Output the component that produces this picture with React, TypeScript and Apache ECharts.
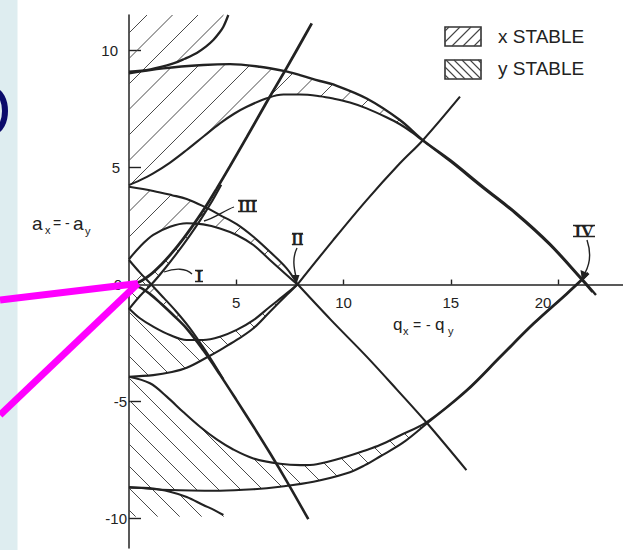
import React, { useEffect, useRef } from "react";
import * as echarts from "echarts";

type Pt = [number, number];

// q runs along x, a along y
const Q_RANGE: Pt = [0, 23.03];
const A_RANGE: Pt = [-11.26, 11.52];

const qTicks = [5, 10, 15, 20];
const aTicks = [-10, -5, 5, 10];
const aLabels = [-10, -5, 0, 5, 10];

// x-stability boundaries (a_x against q_x)
const a0: Pt[] = [[0, 0], [0.5, -0.12], [1.0, -0.42], [1.5, -0.82], [2.0, -1.25], [2.69, -1.88], [3.46, -2.8], [4.24, -3.85], [5.02, -4.95], [5.8, -6.07], [6.57, -7.2], [7.35, -8.4], [8.36, -10.03]];
const b1: Pt[] = [[0, 1.05], [0.5, 0.52], [1.06, -0.02], [1.6, -0.55], [2.2, -1.15], [2.8, -1.82], [3.4, -2.6], [3.9, -3.3], [4.4, -4.05]];
const a1: Pt[] = [[0, 1.08], [0.51, 1.62], [1.13, 2.12], [1.91, 2.47], [2.69, 2.62], [3.46, 2.57], [4.24, 2.4], [5.02, 2.12], [5.8, 1.69], [6.57, 1.05], [7.35, 0.41], [7.85, 0]];
const b2: Pt[] = [[0, 4.18], [1.13, 4.0], [2.0, 3.82], [2.69, 3.66], [3.46, 3.35], [4.24, 2.97], [5.02, 2.58], [5.8, 2.04], [6.57, 1.4], [7.35, 0.69], [7.85, 0.02]];
const b2Tail: Pt[] = [[7.85, 0.02], [9.4, -1.5], [11.08, -3.08], [12.5, -4.5], [13.9, -5.93], [15.73, -7.93]];
const a2: Pt[] = [[0, 4.25], [0.5, 4.45], [1.13, 4.75], [1.9, 5.2], [2.69, 5.75], [3.5, 6.35], [4.24, 6.89], [4.9, 7.3], [5.49, 7.6], [6.42, 7.96], [7.2, 8.12], [7.97, 8.12], [8.9, 8.05], [9.52, 7.95], [10.3, 7.78], [11.08, 7.53], [12.0, 7.15], [12.63, 6.85], [13.2, 6.5], [13.7, 6.15], [14.97, 5.27], [16.5, 4.13], [18.07, 2.99], [19.6, 1.71], [21.03, 0.28], [21.6, -0.32]];
const b3: Pt[] = [[0, 9.03], [1.6, 9.24], [3.46, 9.38], [4.71, 9.42], [6.1, 9.31], [7.27, 9.12], [7.97, 8.95], [8.9, 8.7], [9.52, 8.55], [11.08, 7.95], [12.63, 7.03], [13.7, 6.17], [14.97, 5.32], [16.5, 4.18], [18.07, 3.04], [19.6, 1.76], [21.03, 0.33], [21.77, -0.45]];
const a3: Pt[] = [[0, 9.1], [1.0, 9.2], [2.07, 9.45], [2.6, 9.65], [3.16, 9.9], [3.6, 10.18], [3.93, 10.45], [4.2, 10.75], [4.4, 11.02], [4.63, 11.52]];

// y-stability boundaries, plotted with a_x = -a_y, q_x = -q_y
const nA0: Pt[] = [[0, 0], [0.5, 0.12], [1.0, 0.42], [1.5, 0.85], [2.0, 1.35], [2.5, 1.92], [3.0, 2.55], [3.54, 3.28], [4.09, 4.1], [4.71, 5.06], [5.49, 6.3], [6.42, 7.8], [7.35, 9.26], [8.52, 11.16]];
const nB1: Pt[] = [[0, -1.05], [0.5, -0.5], [1.06, 0.02], [1.6, 0.6], [2.2, 1.3], [2.8, 2.05], [3.3, 2.72], [3.8, 3.45], [4.3, 4.27]];
const nA1: Pt[] = [[0, -1.02], [0.51, -1.44], [1.13, -1.8], [1.91, -2.16], [2.69, -2.37], [3.46, -2.37], [4.24, -2.23], [5.02, -1.94], [5.8, -1.52], [6.57, -0.95], [7.35, -0.38], [7.85, 0]];
const nB2: Pt[] = [[0, -3.94], [1.13, -3.87], [2.0, -3.74], [2.69, -3.56], [3.62, -3.12], [4.24, -2.8], [5.02, -2.37], [5.8, -1.87], [6.57, -1.16], [7.35, -0.45], [7.85, 0]];
const nTail: Pt[] = [[7.85, 0], [9.52, 1.9], [11.08, 3.61], [12.63, 5.18], [13.7, 6.17], [15.43, 8.03]];
const nA2: Pt[] = [[0, -3.94], [0.98, -4.22], [1.76, -4.79], [2.53, -5.45], [3.31, -6.08], [4.09, -6.62], [4.86, -7.05], [5.8, -7.43], [7.04, -7.66], [8.0, -7.72], [8.75, -7.68], [10.15, -7.35], [11.08, -7.07], [11.7, -6.86], [12.63, -6.45], [13.9, -5.87], [15.74, -4.51], [17.3, -3.08], [18.85, -1.66], [20.4, -0.38], [21.07, 0.19], [21.4, 0.5]];
const nB3: Pt[] = [[0, -8.65], [1.91, -8.78], [4.24, -8.81], [5.8, -8.75], [7.04, -8.64], [8.6, -8.43], [10.15, -8.07], [11.0, -7.72], [11.7, -7.35], [12.79, -6.75], [13.9, -5.93], [15.74, -4.55], [17.3, -3.12], [18.85, -1.7], [20.4, -0.42], [21.07, 0.15], [21.4, 0.46]];
const nA3: Pt[] = [[0, -8.68], [1.13, -8.72], [1.91, -8.86], [2.69, -9.08], [3.46, -9.42], [4.0, -9.65], [4.4, -9.85]];

// lowest level reached by the y-stable hatching
const HATCH_FLOOR = -9.92;

const INK = "#222";
const HATCH_INK = "#4a4a4a";

// plot box inside the 623 x 550 canvas
const GRID = { left: 129, right: 0, top: 15, bottom: 2 };
const PLOT_H = 550 - GRID.top - GRID.bottom;
// lift the q axis from the bottom edge to a = 0
const Q_AXIS_OFFSET = -((0 - A_RANGE[0]) / (A_RANGE[1] - A_RANGE[0])) * PLOT_H;

const upTo = (c: Pt[], q: number): Pt[] => c.filter((p) => p[0] <= q + 1e-9);
const rev = (c: Pt[]): Pt[] => [...c].reverse();

// stable regions: x stable hatched "/", y stable hatched "\"
const xStableRegions: Pt[][] = [
  [...upTo(b1, 2.8), ...rev(upTo(a0, 2.69))],
  [...a1, ...rev(b2)],
  [...upTo(a2, 13.7), ...rev(upTo(b3, 13.7))],
  [...a3, [0, A_RANGE[1]]],
];
const yStableRegions: Pt[][] = [
  [...upTo(nB1, 4.3), ...rev(upTo(nA0, 4.09))],
  [...nA1, ...rev(nB2)],
  [...upTo(nA2, 13.9), ...rev(upTo(nB3, 13.9))],
  [...nA3, [nA3[nA3.length - 1][0] + 0.1, HATCH_FLOOR], [0, HATCH_FLOOR]],
];

// parallel 45-degree hatch lines clipped to a pixel polygon.
// dir = 1 draws "/", dir = -1 draws "\".
function hatchSegments(pts: number[][], dir: number, step: number, phase: number) {
  const f = (p: number[]) => p[0] + dir * p[1];
  const vals = pts.map(f);
  const lo = Math.min(...vals);
  const hi = Math.max(...vals);
  const segs: number[][] = [];
  for (let k = Math.ceil((lo - phase) / step); phase + k * step <= hi; k++) {
    const c = phase + k * step;
    const xs: number[] = [];
    for (let i = 0; i < pts.length; i++) {
      const j = (i + 1) % pts.length;
      const fi = vals[i];
      const fj = vals[j];
      if (fi <= c !== fj <= c) {
        const t = (c - fi) / (fj - fi);
        xs.push(pts[i][0] + t * (pts[j][0] - pts[i][0]));
      }
    }
    xs.sort((m, n) => m - n);
    for (let s = 0; s + 1 < xs.length; s += 2) {
      segs.push([xs[s], (c - xs[s]) / dir, xs[s + 1], (c - xs[s + 1]) / dir]);
    }
  }
  return segs;
}

const segLines = (segs: number[][], stroke: string, width: number) =>
  segs.map(([x1, y1, x2, y2]) => ({
    type: "line",
    shape: { x1, y1, x2, y2 },
    style: { stroke, lineWidth: width },
  }));

const hatchSeries = (region: Pt[], dir: number, step: number, phase: number) => ({
  type: "custom",
  silent: true,
  clip: false,
  z: 1,
  data: [[0, 0]],
  renderItem: (_params: any, api: any) => {
    const px = region.map((p) => api.coord(p));
    return {
      type: "group",
      children: segLines(hatchSegments(px, dir, step, phase), HATCH_INK, 1),
    };
  },
});

const curve = (data: Pt[], width = 2.1) => ({
  type: "line",
  data,
  showSymbol: false,
  symbol: "none",
  smooth: 0.35,
  silent: true,
  z: 3,
  lineStyle: { color: INK, width },
});

const roman = (text: string, cx: number, cy: number, x0: number, x1: number, top: number, bottom: number, size = 16) => [
  {
    type: "text",
    x: cx,
    y: cy,
    z: 20,
    style: {
      text,
      fill: INK,
      font: `bold ${size}px "Liberation Serif", "DejaVu Serif", serif`,
      align: "center",
      verticalAlign: "middle",
    },
  },
  { type: "line", z: 20, shape: { x1: x0, y1: top, x2: x1, y2: top }, style: { stroke: INK, lineWidth: 1.5 } },
  { type: "line", z: 20, shape: { x1: x0, y1: bottom, x2: x1, y2: bottom }, style: { stroke: INK, lineWidth: 1.5 } },
];

const plainText = (text: string, x: number, y: number, size: number, align = "left") => ({
  type: "text",
  x,
  y,
  z: 20,
  style: {
    text,
    fill: INK,
    font: `${size}px "Liberation Sans", "DejaVu Sans", sans-serif`,
    align,
    verticalAlign: "middle",
  },
});

const legendBox = (x: number, y: number, dir: number, step: number, phase: number) => {
  const w = 36;
  const h = 19;
  const rect = [[x, y], [x + w, y], [x + w, y + h], [x, y + h]];
  return [
    { type: "rect", z: 20, shape: { x, y, width: w, height: h }, style: { fill: "#fff", stroke: "#333", lineWidth: 1.6 } },
    ...segLines(hatchSegments(rect, dir, step, phase), "#444", 1.1).map((e) => ({ ...e, z: 21 })),
  ];
};

const yShift: Record<string, number> = { "10": 9, "5": 7, "0": 5, "-5": 0, "-10": 0 };

export default function App() {
  const ref = useRef<HTMLDivElement>(null);

  useEffect(() => {
    if (!ref.current) return;
    const chart = echarts.init(ref.current, undefined, { renderer: "svg" });

    const rich: Record<string, any> = {};
    Object.keys(yShift).forEach((k, i) => {
      rich["y" + i] = { padding: [0, yShift[k], 0, 0], fontSize: 15, color: INK, fontFamily: "Liberation Sans" };
    });

    const option: any = {
      animation: false,
      backgroundColor: "#fff",
      grid: { ...GRID, containLabel: false, outerBoundsMode: "none" },
      xAxis: {
        type: "value",
        min: Q_RANGE[0],
        max: Q_RANGE[1],
        offset: Q_AXIS_OFFSET,
        splitLine: { show: false },
        axisLine: { show: true, onZero: false, lineStyle: { color: INK, width: 1.5 } },
        axisTick: { show: true, inside: true, length: 5, customValues: qTicks, lineStyle: { color: INK, width: 1.4 } },
        axisLabel: {
          show: true,
          customValues: qTicks,
          margin: 10,
          formatter: (v: number) => (v === 20 ? `{far|${v}}` : `{n|${v}}`),
          rich: {
            n: { fontSize: 15, color: INK, fontFamily: "Liberation Sans" },
            far: { fontSize: 15, color: INK, fontFamily: "Liberation Sans", padding: [0, 30, 0, 0] },
          },
        },
      },
      yAxis: {
        type: "value",
        min: A_RANGE[0],
        max: A_RANGE[1],
        splitLine: { show: false },
        axisLine: { show: true, onZero: false, lineStyle: { color: INK, width: 1.5 } },
        axisTick: { show: true, inside: true, length: 12, customValues: aTicks, lineStyle: { color: INK, width: 1.4 } },
        axisLabel: {
          show: true,
          customValues: aLabels,
          margin: 2,
          formatter: (v: number) => {
            const i = Object.keys(yShift).indexOf(String(v));
            return `{y${i}|${v}}`;
          },
          rich,
        },
      },
      series: [
        ...xStableRegions.map((r) => hatchSeries(r, 1, 25.5, 162)),
        ...yStableRegions.map((r) => hatchSeries(r, -1, 22, 15)),
        curve(a0, 2.6),
        curve(b1),
        curve(a1),
        curve(b2),
        curve(b2Tail),
        curve(a2),
        curve(b3, 2.4),
        curve(a3, 2.3),
        curve(nA0, 2.8),
        curve(nB1),
        curve(nA1),
        curve(nB2),
        curve(nTail),
        curve(nA2),
        curve(nB3),
        curve(nA3),
      ],
      graphic: [
        // slide margin strip and the edge of a large glyph
        { type: "rect", z: 0, shape: { x: 0, y: 0, width: 17.5, height: 550 }, style: { fill: "#deedf0" } },
        { type: "ellipse", z: 5, shape: { cx: -6, cy: 111, rx: 11, ry: 20 }, style: { fill: null, stroke: "#0b0b6b", lineWidth: 6 } },

        // axis titles
        plainText("a", 32, 223, 19),
        plainText("x", 45, 230, 11),
        plainText("=", 53, 223, 14),
        plainText("-", 65, 223, 14),
        plainText("a", 73, 223, 19),
        plainText("y", 85, 231, 11),

        plainText("q", 393, 324, 17),
        plainText("x", 403, 331, 11),
        plainText("=", 413, 325, 14),
        plainText("-", 426, 325, 14),
        plainText("q", 435, 324, 17),
        plainText("y", 448, 331, 11),

        // region labels, leaders and arrows
        ...roman("III", 247.5, 206, 238, 257, 200.5, 211.5),
        ...roman("II", 297.5, 239, 292, 303, 233.5, 244.5),
        ...roman("IV", 584, 231, 573, 595, 225.5, 236.5, 17),
        ...roman("I", 199, 276, 195, 203, 270.5, 281.5),
        { type: "bezierCurve", z: 20, shape: { x1: 234, y1: 207, cpx1: 225, cpy1: 210, cpx2: 215, cpy2: 218, x2: 204, y2: 221 }, style: { stroke: INK, lineWidth: 1.3, fill: null } },
        { type: "bezierCurve", z: 20, shape: { x1: 192, y1: 274, cpx1: 186, cpy1: 268, cpx2: 175, cpy2: 268, x2: 164, y2: 272 }, style: { stroke: INK, lineWidth: 1.3, fill: null } },
        { type: "bezierCurve", z: 20, shape: { x1: 297, y1: 248, cpx1: 292, cpy1: 258, cpx2: 294, cpy2: 268, x2: 296, y2: 277 }, style: { stroke: INK, lineWidth: 1.4, fill: null } },
        { type: "polygon", z: 20, shape: { points: [[292.5, 275], [299.5, 275], [296.5, 284]] }, style: { fill: INK } },
        { type: "bezierCurve", z: 20, shape: { x1: 587, y1: 240, cpx1: 591, cpy1: 252, cpx2: 590, cpy2: 264, x2: 585, y2: 273 }, style: { stroke: INK, lineWidth: 1.4, fill: null } },
        { type: "polygon", z: 20, shape: { points: [[580.5, 270], [589.5, 274], [582, 281]] }, style: { fill: INK } },

        // legend
        ...legendBox(445, 27, 1, 11, 3),
        ...legendBox(445, 60, -1, 8, 2),
        plainText("x STABLE", 498, 36, 19),
        plainText("y STABLE", 498, 68.5, 19),

        // pointer lines
        { type: "line", z: 30, shape: { x1: 0, y1: 300, x2: 138, y2: 283.5 }, style: { stroke: "#ff00ff", lineWidth: 7 } },
        { type: "line", z: 30, shape: { x1: 0, y1: 415, x2: 138, y2: 283.5 }, style: { stroke: "#ff00ff", lineWidth: 7 } },
      ],
    };

    chart.setOption(option);
    return () => chart.dispose();
  }, []);

  return (
    <div
      ref={ref}
      style={{ position: "fixed", left: 0, top: 0, width: 623, height: 550, background: "#fff" }}
    />
  );
}
